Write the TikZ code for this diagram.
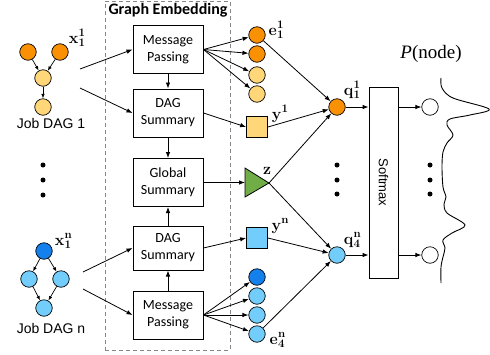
\documentclass[tikz,border=0pt]{standalone}
\usepackage{fontspec}
\usetikzlibrary{arrows.meta,calc}
\newfontfamily\carl{Carlito}
\newfontfamily\arialf{Liberation Sans}
\newfontfamily\tnr{Liberation Serif}
\newcommand{\scrfont}{\fontsize{11.5}{12}\selectfont\bfseries}
\newcommand{\lblss}[3]{\textbf{#1}\kern0.3pt\makebox[0pt][l]{\raisebox{6.5pt}{\scrfont #2}}\raisebox{-3.5pt}{\scrfont #3}}
\newcommand{\lblsup}[2]{\textbf{#1}\kern0.3pt\raisebox{6.5pt}{\scrfont #2}}
\definecolor{dor}{RGB}{250,145,5}
\definecolor{lor}{RGB}{255,214,120}
\definecolor{dbl}{RGB}{20,128,235}
\definecolor{lbl}{RGB}{115,205,250}
\definecolor{grn}{RGB}{112,173,71}
\definecolor{dgray}{RGB}{135,135,135}
\begin{document}
\begin{tikzpicture}[x=1pt,y=-1pt,
  jdot/.style={circle,draw=black,line width=0.7pt,minimum size=16.5pt,inner sep=0pt},
  blk/.style={draw=black,line width=1pt,minimum width=70pt,minimum height=48pt,inner sep=0pt,align=center,font=\carl\fontsize{14}{17}\selectfont},
  arr/.style={-{Latex[length=6pt,width=4.5pt]},line width=0.8pt},
  sarr/.style={-{Latex[length=4.5pt,width=3.5pt]},line width=0.7pt},
  sq/.style={draw=black,line width=0.8pt,minimum size=21pt,inner sep=0pt},
  bdot/.style={circle,fill=black,minimum size=5pt,inner sep=0pt},
  lab/.style={inner sep=0pt,font=\fontsize{16}{18}\selectfont},
  jtxt/.style={inner sep=0pt,font=\arialf\fontsize{14}{16}\selectfont}]
\useasboundingbox (0,0) rectangle (490,354);

% dashed embedding box
\node[draw=dgray,line width=1pt,dash pattern=on 4pt off 3pt,minimum width=125pt,minimum height=349pt,inner sep=0pt] (emb) at (167.5,175.5) {};
\node[inner sep=0pt,font=\carl\bfseries\fontsize{16}{18}\selectfont] (title) at (168,10) {Graph Embedding};

% Job DAG 1
\node[jdot,fill=dor] (a1) at (28,52) {};
\node[jdot,fill=dor] (a2) at (60,52) {};
\node[jdot,fill=lor] (a3) at (43,78) {};
\node[jdot,fill=lor] (a4) at (43,107) {};
\draw[sarr] (a1) -- (a3);
\draw[sarr] (a2) -- (a3);
\draw[sarr] (a3) -- (a4);
\node[lab] (x11) at (77,38) {\lblss{x}{1}{1}};
\node[jtxt] (j1) at (51,123) {Job DAG 1};

% left dots
\node[bdot] (ld1) at (43,165) {};
\node[bdot] (ld2) at (43,180) {};
\node[bdot] (ld3) at (43,195) {};

% Job DAG n
\node[jdot,fill=dbl] (b1) at (44,251) {};
\node[jdot,fill=lbl] (b2) at (29,279) {};
\node[jdot,fill=lbl] (b3) at (61,279) {};
\node[jdot,fill=lbl] (b4) at (44,308) {};
\draw[sarr] (b1) -- (b2);
\draw[sarr] (b1) -- (b3);
\draw[sarr] (b2) -- (b4);
\draw[sarr] (b3) -- (b4);
\node[lab] (xn1) at (63,241) {\lblss{x}{n}{1}};
\node[jtxt] (jn) at (51,328) {Job DAG n};

% boxes
\node[blk] (mp1) at (168,49.5) {Message\\Passing};
\node[blk] (ds1) at (168,113) {DAG\\Summary};
\node[blk] (gs) at (168,182.5) {Global\\Summary};
\node[blk,minimum height=44pt] (dsn) at (168,248) {DAG\\Summary};
\node[blk] (mpn) at (168,315) {Message\\Passing};

\draw[arr] (mp1) -- (ds1);
\draw[arr] (ds1) -- (gs);
\draw[arr] (dsn) -- (gs);
\draw[arr] (mpn) -- (dsn);

% inputs
\coordinate (s1) at (80,69);
\coordinate (s2) at (80,88);
\coordinate (s3) at (83,272);
\coordinate (s4) at (83,289);
\draw[arr] (s1) -- (mp1.west);
\draw[arr] (s2) -- (ds1.west);
\draw[arr] (s3) -- (dsn.west);
\draw[arr] (s4) -- (mpn.west);

% node embeddings 1
\node[jdot,fill=dor] (e1) at (257,35) {};
\node[jdot,fill=dor] (e2) at (257,54) {};
\node[jdot,fill=lor] (e3) at (257,75) {};
\node[jdot,fill=lor] (e4) at (257,94) {};
\foreach \n in {e1,e2,e3,e4} \draw[arr] (mp1.east) -- (\n);
\node[lab] (le1) at (276,30) {\lblss{e}{1}{1}};

% node embeddings n
\node[jdot,fill=dbl] (f1) at (257,277) {};
\node[jdot,fill=lbl] (f2) at (257,296) {};
\node[jdot,fill=lbl] (f3) at (257,315) {};
\node[jdot,fill=lbl] (f4) at (257,334) {};
\foreach \n in {f1,f2,f3,f4} \draw[arr] (mpn.east) -- (\n);
\node[lab] (lf4) at (277,340) {\lblss{e}{n}{4}};

% DAG summaries
\node[sq,fill=lor] (y1) at (257,127) {};
\node[sq,fill=lbl] (yn) at (257,238) {};
\draw[arr] (ds1.east) -- (y1.west);
\draw[arr] (dsn.east) -- (yn.west);
\node[lab] (ly1) at (280,114) {\lblsup{y}{1}};
\node[lab] (lyn) at (280,226) {\lblsup{y}{n}};

% global summary triangle
\coordinate (zl) at (245,182.5);
\coordinate (zt) at (269,183);
\draw[line width=0.8pt,fill=grn] (245,168) -- (zt) -- (245,197) -- cycle;
\draw[arr] (gs.east) -- (zl);
\node[lab] (lz) at (267,171) {\textbf{z}};

% q nodes
\node[jdot,fill=dor] (q1) at (337,107) {};
\node[jdot,fill=lbl] (qn) at (337,255) {};
\node[lab] (lq1) at (352,90) {\lblss{q}{1}{1}};
\node[lab] (lqn) at (352,240) {\lblss{q}{n}{4}};
\draw[arr] (e1) -- (q1);
\draw[arr] (y1.east) -- (q1);
\draw[arr] (zt) -- (q1);
\draw[arr] (zt) -- (qn);
\draw[arr] (yn.east) -- (qn);
\draw[arr] (f4) -- (qn);

% middle dots
\node[bdot] (md1) at (337,165) {};
\node[bdot] (md2) at (337,180) {};
\node[bdot] (md3) at (337,194) {};

% softmax
\node[draw=black,line width=0.8pt,minimum width=29pt,minimum height=191pt,inner sep=0pt] (sm) at (383.5,182.5) {};
\node[rotate=-90,inner sep=0pt,font=\arialf\fontsize{13}{15}\selectfont] (smt) at (sm.center) {Softmax};
\draw[arr] (q1) -- (q1 -| sm.west);
\draw[arr] (qn) -- (qn -| sm.west);

% outputs
\node[jdot,fill=white] (o1) at (430,107) {};
\node[jdot,fill=white] (on) at (430,255) {};
\draw[arr] (sm.east |- o1) -- (o1);
\draw[arr] (sm.east |- on) -- (on);
\node[bdot] (rd1) at (430,165) {};
\node[bdot] (rd2) at (430,180) {};
\node[bdot] (rd3) at (430,194) {};

\node[inner sep=0pt,font=\tnr\fontsize{19}{21}\selectfont] (pn) at (431,54) {\textit{P}(node)};

% distribution curve
\draw[line width=0.9pt] plot[smooth,tension=0.55] coordinates {
(441,78) (442,88) (453,98) (489,109) (470,115) (450,119) (447,125) (453,135) (447,143) (443,152) (442,167) (443,187) (446,197) (444,204) (447,213) (465,225) (452,233) (443,240) (445,248) (443,257) (441,267) (441,283)};
\end{tikzpicture}
\end{document}
